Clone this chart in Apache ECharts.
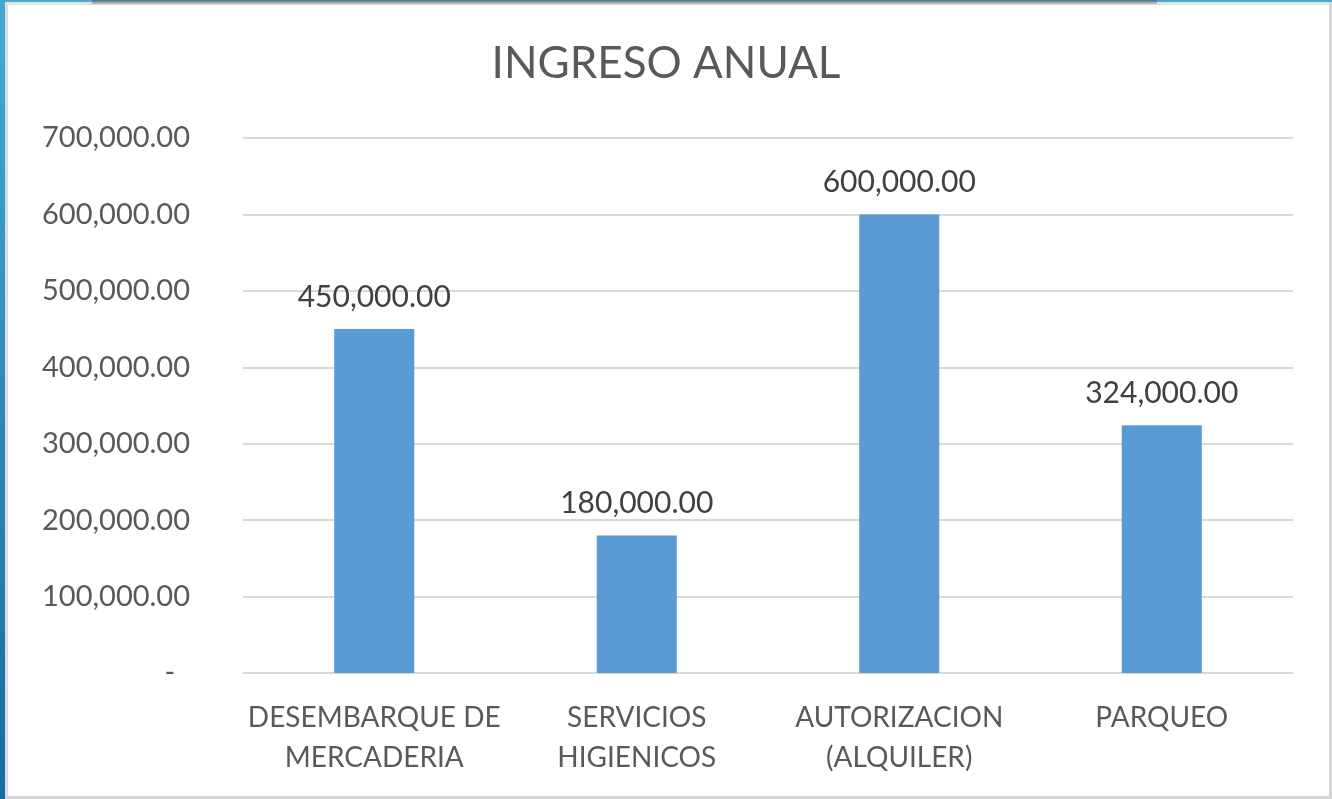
<!DOCTYPE html>
<html>
<head>
<meta charset="utf-8">
<script src="https://cdn.jsdelivr.net/npm/echarts@6/dist/echarts.min.js"></script>
<style>
html, body { margin: 0; padding: 0; background: #fff; overflow: hidden; }
.bar { position: absolute; left: 0; top: 0; width: 1332px; height: 799px; }
.b { position: absolute; pointer-events: none; }
</style>
</head>
<body>
<div class="bar" id="bar"></div>
<!-- marco -->
<div class="b" style="left:0;top:0;width:5px;height:799px;background:linear-gradient(#45a8d2,#1a6aa3);"></div>
<div class="b" style="left:5px;top:0;width:1327px;height:2px;background:#4aaad2;"></div>
<div class="b" style="left:5px;top:2px;width:3px;height:797px;background:#dcdcdc;"></div>
<div class="b" style="left:5px;top:2px;width:1327px;height:3px;background:#e2e2e2;"></div>
<div class="b" style="left:92px;top:0;width:1065px;height:5px;background:linear-gradient(#2a7a9a,#9a9a9a 45%,#e6e6e6);"></div>
<div class="b" style="left:1329px;top:2px;width:3px;height:797px;background:#d6d6d6;"></div>
<div class="b" style="left:5px;top:796px;width:1327px;height:3px;background:#d6d6d6;"></div>
<script>
// datos del gráfico
const categorias = ['DESEMBARQUE DE\nMERCADERIA', 'SERVICIOS\nHIGIENICOS', 'AUTORIZACION\n(ALQUILER)', 'PARQUEO']
const ingresos = [450000, 180000, 600000, 324000]
const titulo = 'INGRESO ANUAL'

function formato(v) {
    if (v === 0) return '-  '
    return v.toLocaleString('en-US', { minimumFractionDigits: 2, maximumFractionDigits: 2 })
}

let myChart = echarts.init(document.getElementById('bar'))
let barOption = {
    backgroundColor: '#fff',
    animation: false,
    title: {
        text: titulo,
        left: 'center',
        top: 37,
        textStyle: { fontFamily: 'Lato', fontWeight: 'normal', fontSize: 44, color: '#595959' }
    },
    grid: {
        left: 243,
        right: 39,
        top: 138,
        bottom: 126
    },
    xAxis: {
        type: 'category',
        data: categorias,
        axisLine: { lineStyle: { color: '#d9d9d9', width: 2 } },
        axisTick: { show: false },
        axisLabel: {
            interval: 0,
            margin: 25,
            fontFamily: 'Lato',
            fontSize: 28,
            lineHeight: 40,
            color: '#595959'
        }
    },
    yAxis: {
        type: 'value',
        min: 0,
        max: 700000,
        interval: 100000,
        axisLine: { show: false },
        axisTick: { show: false },
        splitLine: { lineStyle: { color: '#d9d9d9', width: 2 } },
        axisLabel: {
            margin: 53,
            fontFamily: 'Lato',
            fontSize: 29,
            color: '#595959',
            formatter: formato
        }
    },
    series: [
        {
            type: 'bar',
            data: ingresos,
            barWidth: '30.5%',
            itemStyle: { color: '#5b9bd5' },
            label: {
                show: true,
                position: 'top',
                distance: 17,
                fontFamily: 'Lato',
                fontSize: 30,
                color: '#404040',
                formatter: (p) => formato(p.value)
            }
        }
    ]
}
myChart.setOption(barOption)
</script>
</body>
</html>
